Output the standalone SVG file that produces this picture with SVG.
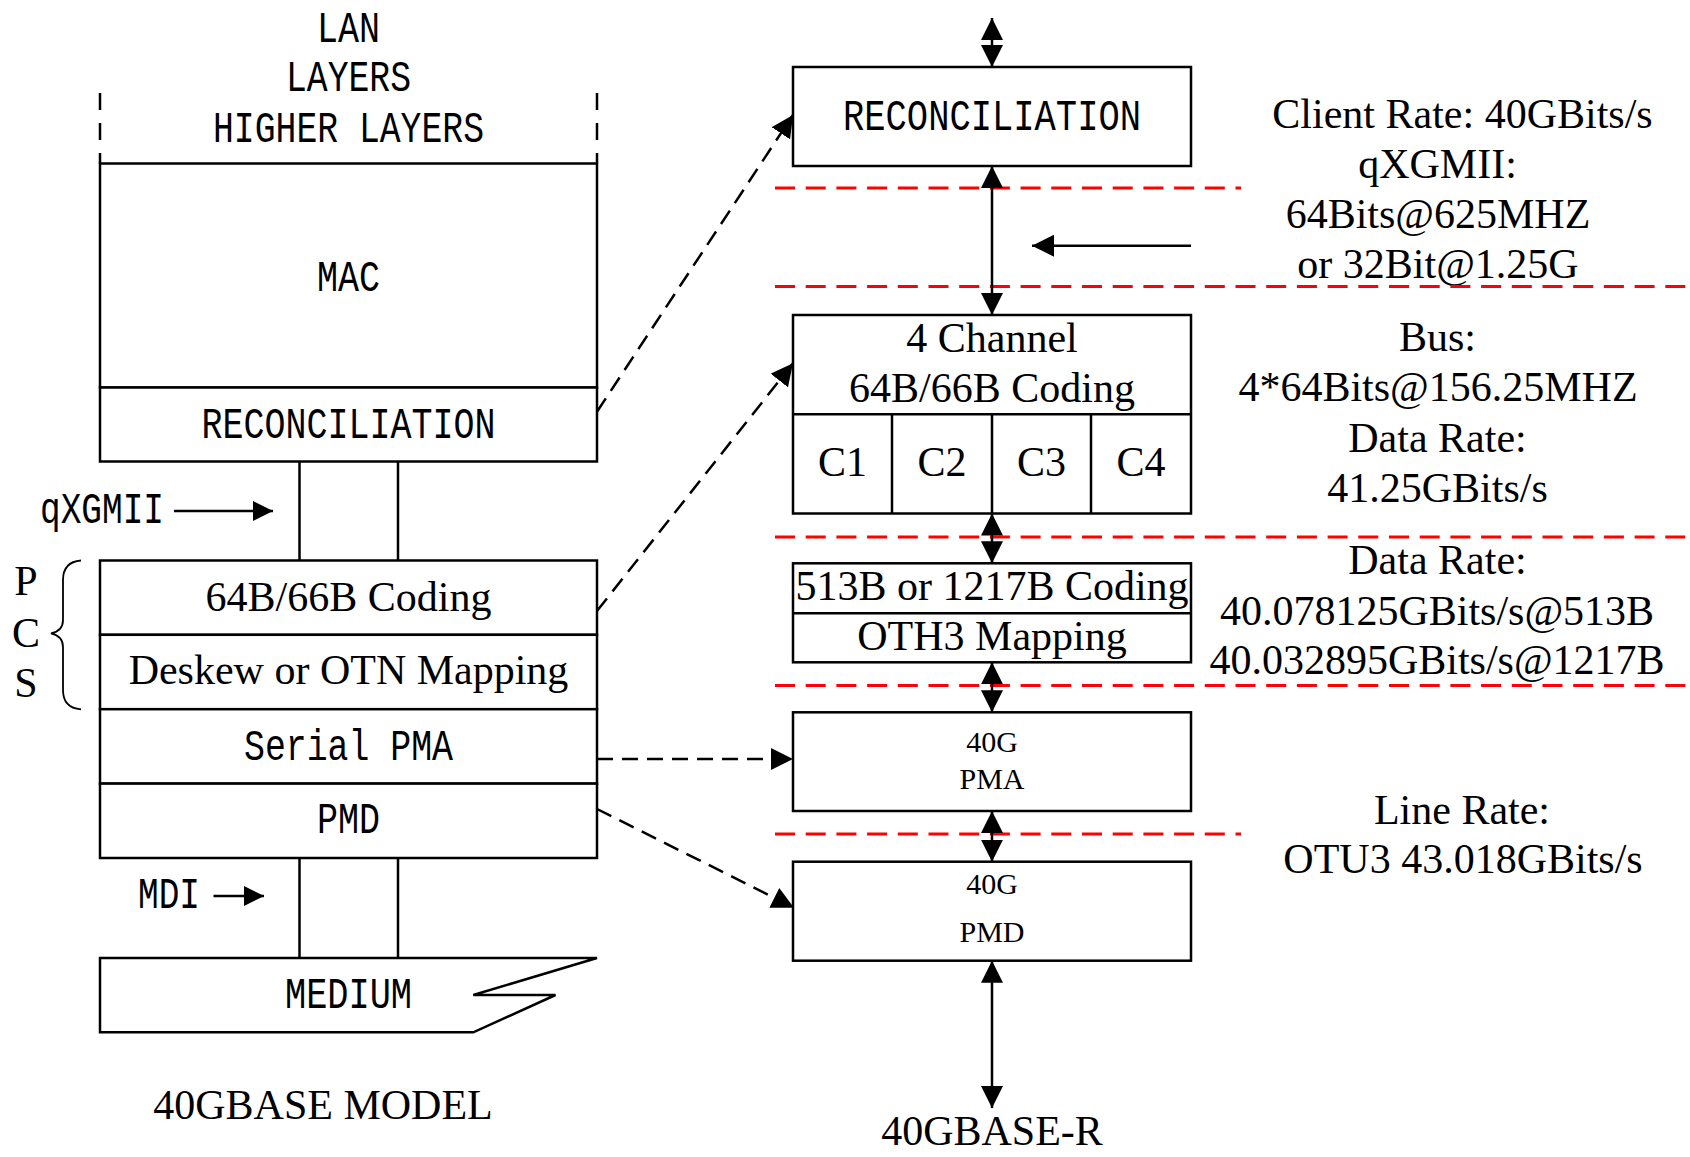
<svg xmlns="http://www.w3.org/2000/svg" width="1690" height="1157" viewBox="0 0 1690 1157">
<style>
.box{fill:#fff;stroke:#000;stroke-width:2.5}
.ln{fill:none;stroke:#000;stroke-width:2.5}
.thin{fill:none;stroke:#000;stroke-width:1.8}
.dash{fill:none;stroke:#000;stroke-width:2.5;stroke-dasharray:16 9}
.vdash{fill:none;stroke:#000;stroke-width:2.5;stroke-dasharray:17 13}
.red{fill:none;stroke:#ff0000;stroke-width:3;stroke-dasharray:20 10.7}
.mono{font-family:"Liberation Mono","DejaVu Sans Mono",monospace;font-size:44px;fill:#000}
.serif{font-family:"Liberation Serif","Times New Roman",serif;font-size:42px;fill:#000}
.s30{font-size:30px}
.mid{text-anchor:middle}
</style>
<defs>
<marker id="ah" viewBox="0 0 22 22" refX="22" refY="11" markerWidth="22" markerHeight="22" markerUnits="userSpaceOnUse" orient="auto-start-reverse">
<path d="M0,0 L22,11 L0,22 z" fill="#000"/>
</marker>
<marker id="ahs" viewBox="0 0 20 20" refX="20" refY="10" markerWidth="20" markerHeight="20" markerUnits="userSpaceOnUse" orient="auto-start-reverse">
<path d="M0,0 L20,10 L0,20 z" fill="#000"/>
</marker>
</defs>
<rect x="0" y="0" width="1690" height="1157" fill="#fff"/>

<!-- LEFT: 40GBASE MODEL -->
<g id="higher-layers">
<line class="vdash" x1="100" y1="93" x2="100" y2="163.5"/>
<line class="vdash" x1="597" y1="93" x2="597" y2="163.5"/>
<text class="mono mid" x="348.5" y="41.5" textLength="63" lengthAdjust="spacingAndGlyphs">LAN</text>
<text class="mono mid" x="348.5" y="91" textLength="125" lengthAdjust="spacingAndGlyphs">LAYERS</text>
<text class="mono mid" x="348.5" y="141.5" textLength="271" lengthAdjust="spacingAndGlyphs">HIGHER LAYERS</text>
</g>
<g id="mac">
<rect class="box" x="100" y="163.5" width="497" height="224"/>
<text class="mono mid" x="348.5" y="291" textLength="63" lengthAdjust="spacingAndGlyphs">MAC</text>
</g>
<g id="reconciliation-left">
<rect class="box" x="100" y="387.5" width="497" height="74"/>
<text class="mono mid" x="348.5" y="437.5" textLength="294" lengthAdjust="spacingAndGlyphs">RECONCILIATION</text>
</g>
<g id="qxgmii-interface">
<line class="ln" x1="299.5" y1="461.5" x2="299.5" y2="560.5"/>
<line class="ln" x1="398" y1="461.5" x2="398" y2="560.5"/>
<text class="mono" x="40" y="523.3" textLength="124" lengthAdjust="spacingAndGlyphs">qXGMII</text>
</g>
<g id="coding-left">
<rect class="box" x="100" y="560.5" width="497" height="74.3"/>
<text class="serif mid" x="348.5" y="610.7">64B/66B Coding</text>
</g>
<g id="deskew">
<rect class="box" x="100" y="634.8" width="497" height="74.4"/>
<text class="serif mid" x="348.5" y="684">Deskew or OTN Mapping</text>
</g>
<g id="serial-pma">
<rect class="box" x="100" y="709.2" width="497" height="74.4"/>
<text class="mono mid" x="348.5" y="760" textLength="209" lengthAdjust="spacingAndGlyphs">Serial PMA</text>
</g>
<g id="pmd-left">
<rect class="box" x="100" y="783.6" width="497" height="74.4"/>
<text class="mono mid" x="348.5" y="833.3" textLength="63" lengthAdjust="spacingAndGlyphs">PMD</text>
</g>
<g id="pcs-label">
<path class="thin" d="M81,560.5 Q63,562 63,580 L63,620 Q63,631 51,633.3 Q63,636 63,647 L63,690 Q63,708 81,709.3"/>
<text class="serif mid" x="26" y="595">P</text>
<text class="serif mid" x="26" y="646.7">C</text>
<text class="serif mid" x="26" y="696.7">S</text>
</g>
<g id="mdi-interface">
<line class="ln" x1="299.5" y1="858" x2="299.5" y2="958"/>
<line class="ln" x1="398" y1="858" x2="398" y2="958"/>
<text class="mono" x="138" y="908.3" textLength="62" lengthAdjust="spacingAndGlyphs">MDI</text>
</g>
<g id="medium">
<polygon class="box" points="100,958 597,958 473.3,995 555.5,995 473.3,1032.3 100,1032.3"/>
<text class="mono mid" x="348.5" y="1007.7" textLength="127" lengthAdjust="spacingAndGlyphs">MEDIUM</text>
</g>
<g id="title-left">
<text class="serif mid" x="323" y="1119.3">40GBASE MODEL</text>
</g>

<!-- RIGHT: 40GBASE-R -->
<g id="reconciliation-right">
<rect class="box" x="793" y="67" width="398" height="99"/>
<text class="mono mid" x="992" y="130" textLength="298" lengthAdjust="spacingAndGlyphs">RECONCILIATION</text>
</g>
<g id="four-channel">
<rect class="box" x="793" y="315" width="398" height="198.5"/>
<line class="ln" x1="793" y1="414.3" x2="1191" y2="414.3"/>
<line class="ln" x1="892" y1="414.3" x2="892" y2="513.5"/>
<line class="ln" x1="992" y1="414.3" x2="992" y2="513.5"/>
<line class="ln" x1="1091" y1="414.3" x2="1091" y2="513.5"/>
<text class="serif mid" x="992" y="351.7">4 Channel</text>
<text class="serif mid" x="992" y="401.7">64B/66B Coding</text>
<text class="serif mid" x="842.5" y="476">C1</text>
<text class="serif mid" x="942" y="476">C2</text>
<text class="serif mid" x="1041.5" y="476">C3</text>
<text class="serif mid" x="1141" y="476">C4</text>
</g>
<g id="oth3-mapping">
<rect class="box" x="793" y="563.3" width="398" height="99"/>
<line class="ln" x1="793" y1="613.3" x2="1191" y2="613.3"/>
<text class="serif mid" x="992" y="600">513B or 1217B Coding</text>
<text class="serif mid" x="992" y="650">OTH3 Mapping</text>
</g>
<g id="pma-right">
<rect class="box" x="793" y="712.3" width="398" height="98.7"/>
<text class="serif s30 mid" x="992" y="751.7">40G</text>
<text class="serif s30 mid" x="992" y="789.3">PMA</text>
</g>
<g id="pmd-right">
<rect class="box" x="793" y="861.7" width="398" height="99"/>
<text class="serif s30 mid" x="992" y="894.3">40G</text>
<text class="serif s30 mid" x="992" y="941.7">PMD</text>
</g>
<g id="title-right">
<text class="serif mid" x="992" y="1145">40GBASE-R</text>
</g>

<!-- rate notes -->
<g id="notes">
<text class="serif mid" x="1462.5" y="128.3">Client Rate: 40GBits/s</text>
<text class="serif mid" x="1437.5" y="178.3">qXGMII:</text>
<text class="serif mid" x="1438" y="228.3">64Bits@625MHZ</text>
<text class="serif mid" x="1438" y="278.3">or 32Bit@1.25G</text>
<text class="serif mid" x="1437.5" y="350.7">Bus:</text>
<text class="serif mid" x="1438" y="400.7">4*64Bits@156.25MHZ</text>
<text class="serif mid" x="1437.5" y="451.7">Data Rate:</text>
<text class="serif mid" x="1437.5" y="501.7">41.25GBits/s</text>
<text class="serif mid" x="1437.5" y="574">Data Rate:</text>
<text class="serif mid" x="1437" y="625">40.078125GBits/s@513B</text>
<text class="serif mid" x="1437" y="674">40.032895GBits/s@1217B</text>
<text class="serif mid" x="1462" y="824">Line Rate:</text>
<text class="serif mid" x="1463" y="873.3">OTU3 43.018GBits/s</text>
</g>

<g id="boundaries">
<line class="red" x1="775" y1="188" x2="1241" y2="188"/>
<line class="red" x1="775" y1="286.5" x2="1690" y2="286.5"/>
<line class="red" x1="775" y1="537" x2="1690" y2="537"/>
<line class="red" x1="775" y1="685.5" x2="1690" y2="685.5"/>
<line class="red" x1="775" y1="834" x2="1241" y2="834"/>
</g>

<g id="connectors">
<line class="ln" x1="992" y1="18" x2="992" y2="67" marker-start="url(#ah)" marker-end="url(#ah)"/>
<line class="ln" x1="992" y1="166" x2="992" y2="315" marker-start="url(#ah)" marker-end="url(#ah)"/>
<line class="ln" x1="992" y1="513.5" x2="992" y2="563.3" marker-start="url(#ah)" marker-end="url(#ah)"/>
<line class="ln" x1="992" y1="662.3" x2="992" y2="712.3" marker-start="url(#ah)" marker-end="url(#ah)"/>
<line class="ln" x1="992" y1="811" x2="992" y2="861.7" marker-start="url(#ah)" marker-end="url(#ah)"/>
<line class="ln" x1="992" y1="960.7" x2="992" y2="1108" marker-start="url(#ah)" marker-end="url(#ah)"/>
<line class="ln" x1="1191" y1="245.7" x2="1032" y2="245.7" marker-end="url(#ah)"/>
<line class="dash" x1="597" y1="411.7" x2="793" y2="115" marker-end="url(#ah)"/>
<line class="dash" x1="597" y1="611" x2="793" y2="363.3" marker-end="url(#ah)"/>
<line class="dash" x1="597" y1="759" x2="793" y2="759" marker-end="url(#ah)"/>
<line class="dash" x1="597" y1="809" x2="794" y2="907.7" marker-end="url(#ah)"/>
<line class="ln" x1="174" y1="511" x2="273" y2="511" marker-end="url(#ahs)"/>
<line class="ln" x1="213.5" y1="896" x2="264" y2="896" marker-end="url(#ahs)"/>
</g>
</svg>
